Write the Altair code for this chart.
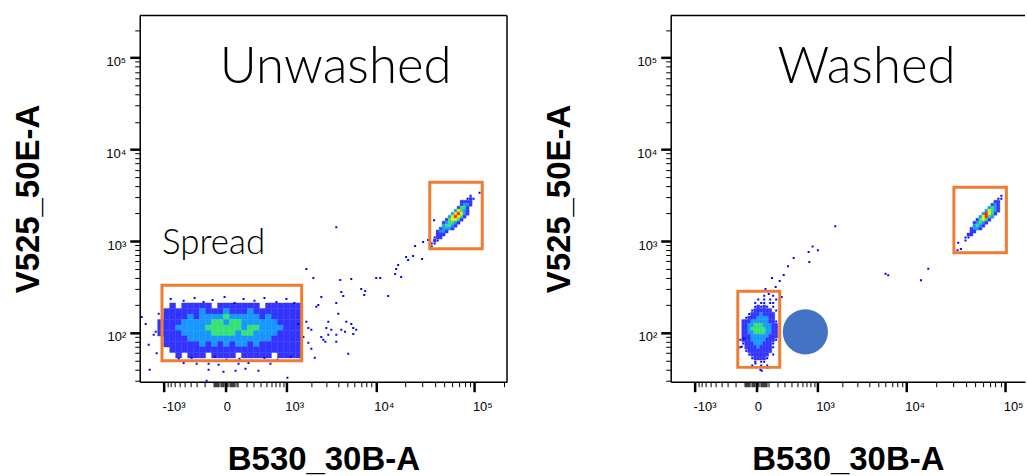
import json
import altair as alt
import numpy as np
import pandas as pd

# ---------------- axes / scales ----------------
C = 320.0                      # symlog (biexponential-like) constant
X_MIN = -1988.0
X_MAX_UNWASHED = 212600.0
X_MAX_WASHED = 158200.0
Y_MIN = 29.3
Y_MAX = 288400.0

X_MAJOR = [-1000, 0, 1000, 10000, 100000]
X_MAJOR_LABELS = ["-10³", "0", "10³", "10⁴", "10⁵"]
X_MINOR = (list(range(-900, -99, 100)) + list(range(-90, 0, 10)) + list(range(10, 100, 10))
           + list(range(100, 1000, 100)) + list(range(2000, 10000, 1000))
           + list(range(20000, 100000, 10000)) + [200000])
Y_MAJOR = [100, 1000, 10000, 100000]
Y_MAJOR_LABELS = ["10²", "10³", "10⁴", "10⁵"]
Y_MINOR = (list(range(30, 100, 10)) + list(range(200, 1000, 100)) + list(range(2000, 10000, 1000))
           + list(range(20000, 100000, 10000)) + [200000])

# ---------------- density grids ----------------
# level: 1 sparse dot, 2 blue, 3 cyan, 4 green, 5 yellow, 6 red
SPREAD_X_START, SPREAD_X_STEP, SPREAD_Y_TOP, SPREAD_Y_STEP = -1988.0, 0.06, 279.0, 0.06
SPREAD_ROWS = [
    "..............................",
    "..............................",
    ".....2.22222.2222222.222222...",
    "....22222232223222322222222...",
    "....22223233334333332322222...",
    "...222233333443443333332222...",
    "...222333334444443443333222...",
    "...222233333444434433332222...",
    "....22223333333333333322222...",
    "....22222232323233232222222...",
    ".....2222222222222222222222...",
    "......2.222.2222.22222.2222...",
    "..............................",
]

BEAD_X_START, BEAD_X_STEP, BEAD_Y_TOP, BEAD_Y_STEP = 35834.0, 0.03, 3767.0, 0.0326
BEAD_U_ROWS = [
    ".................",
    "................1",
    ".............1...",
    "............121..",
    "..........2222...",
    "..........2332...",
    ".........2442....",
    "........35432....",
    ".......356532....",
    "......356542.....",
    ".....245542......",
    "....234432.......",
    "....34432........",
    "...23332.........",
    "..2332...........",
    "..222............",
    ".122.............",
    ".21..............",
    "11...............",
    "1................",
]
BEAD_W_ROWS = [
    ".................",
    ".................",
    ".............1...",
    "............11...",
    "...........22....",
    "..........232....",
    ".........3432....",
    "........35432....",
    ".......36542.....",
    "......35643......",
    ".....24542.......",
    "....23432........",
    "....3432.........",
    "...2332..........",
    "...22............",
    "..22.............",
    ".11..............",
    ".1...............",
    ".................",
    ".................",
]

WPOP_X_START, WPOP_X_STEP, WPOP_Y_TOP, WPOP_Y_STEP = -159.0, 0.03, 265.4, 0.04
WPOP_ROWS = [
    "........1..1..",
    "......1.1.1.1.",
    ".....1.11.11..",
    ".....12121.1..",
    "....1222222.1.",
    "...122232222..",
    "..1222333322..",
    ".222333333221.",
    ".223344433322.",
    ".223444443322.",
    ".223344443322.",
    ".222333333222.",
    "1222333332221.",
    ".12223332221..",
    "1.2222322221..",
    "..122222222...",
    "...1222222.1..",
    "....122221....",
    ".....1.11.....",
    "....1..1.1....",
]

# ---------------- individual events outside the dense cores ----------------
UNW_DOT_X = [1756, 2119, 3821, 4221, 5530, 4327, 4547, 7043, 7754, 7571, 10083, 11087, 13392,
             15792, 16166, 16944, 18179, 20435, 21414, 24067, 29683, 25216, 30381, 34112, 39232,
             2612, 2416, 2293, 3821, 4016, 2750, 2200, 5139, 4894, 5530, 5805, 6243, 3124, 2970,
             3370, 3124, 2612, 2900, 1756, 1853, 2009, 3821, 3821, 1853, 2009, 4327, 4750, 5805,
             1020, -173, -1513, -1556, -1884, -1690, -1352, -1276, -1240, -1170, -518, -300, -151,
             -54, 114, 226, 586, -151, -14, 85, 189, 367, 1406, 1617, -810,
             -518, -330, -209, -110, -6, 76, 167, 307, 469, 720, 990, 1254,
             -620, -377, -221, -90, 9, 124, 265, 469, 744, 1116]
UNW_DOT_Y = [496, 396, 1419, 377, 386, 279, 252, 301, 286, 259, 396, 396, 252,
             438, 496, 548, 406, 670, 621, 687, 637, 883, 975, 1025, 1691,
             246, 201, 192, 212, 161, 84, 53.5, 59, 132, 125, 113, 108, 132, 113,
             108, 95, 90, 80, 132, 113, 108, 95, 80, 78, 67, 108, 103, 97,
             32.4, 30.1, 39.6, 74, 149, 125, 95, 103, 60, 161, 47, 46, 46,
             45, 46, 47, 46, 39.6, 37.7, 38.6, 40.6, 38.6, 125, 90, 234,
             223, 240, 217, 228, 246, 212, 234, 223, 240, 217, 234, 212,
             52.1, 53.5, 49.6, 54.8, 50.9, 52.1, 49.6, 53.5, 50.9, 54.8]
W_DOT_X = [76, 107, 140, 230, 283, 256, 346, 439, 752, 769, 855, 1008, 1662, 6006, 6413, 14039,
           16669, 32, 43, 97, -6, -127, -107, 181, 33571, 35744, 33024]
W_DOT_Y = [301, 265, 396, 367, 427, 246, 531, 653, 759, 591, 875, 795, 1455, 441, 424, 374,
           500, 39.6, 38.6, 41.7, 46.3, 70.5, 86, 316, 959, 818, 793]

# ---------------- gates, annotations ----------------
UNW_GATE_X1 = [-1061, 35490]
UNW_GATE_X2 = [1543, 119940]
UNW_GATE_Y1 = [330, 4377]
UNW_GATE_Y2 = [49.6, 825]
W_GATE_X1 = [-170, 30381]
W_GATE_X2 = [230, 102750]
W_GATE_Y1 = [284, 3864]
W_GATE_Y2 = [42, 746]
W_CIRCLE_X = [674]
W_CIRCLE_Y = [102.5]
PANEL_TITLES = ["Unwashed", "Washed"]
PANEL_TITLE_X = [3760, 3760]
PANEL_TITLE_Y = [53460, 53460]
SPREAD_TEXT = ["Spread"]
SPREAD_TEXT_X = [-1061]
SPREAD_TEXT_Y = [716]

LEVELS = [2, 3, 4, 5, 6]
LEVEL_COLORS = ["#3434ff", "#1898ff", "#36e276", "#e8f000", "#ff2600"]

X_TITLE = "B530_30B-A"
Y_TITLE = "V525_50E-A"


# ---------------- helpers ----------------
def symlog_inv(t):
    return float(np.sign(t) * C * (10 ** abs(t) - 1))


def symlog(x):
    return float(np.sign(x) * np.log10(1 + abs(x) / C))


def grid(x_start, x_step, y_top, y_step, rows):
    t0 = symlog(x_start)
    l0 = np.log10(y_top)
    rects, dots = [], []
    for j, row in enumerate(rows):
        for i, ch in enumerate(row):
            if ch in ".0":
                continue
            lev = int(ch)
            if lev == 1:
                dots.append({"x": symlog_inv(t0 + (i + 0.5) * x_step),
                             "y": float(10 ** (l0 - (j + 0.5) * y_step))})
            else:
                rects.append({"x": symlog_inv(t0 + i * x_step), "x2": symlog_inv(t0 + (i + 1) * x_step),
                              "y": float(10 ** (l0 - j * y_step)), "y2": float(10 ** (l0 - (j + 1) * y_step)),
                              "level": lev})
    return rects, dots


def label_expr(vals, labs):
    expr = "''"
    for v, l in reversed(list(zip(vals, labs))):
        expr = f"datum.value == {v} ? '{l}' : {expr}"
    return expr


def cond(major_vals, major, minor):
    return {"condition": {"test": f"indexof({json.dumps(major_vals)}, datum.value) >= 0", "value": major},
            "value": minor}


def make_axes(xmax):
    xvals = sorted([v for v in X_MAJOR + X_MINOR if X_MIN <= v <= xmax])
    yvals = sorted(Y_MAJOR + Y_MINOR)
    xa = alt.Axis(values=xvals, labelExpr=label_expr(X_MAJOR, X_MAJOR_LABELS),
                  tickSize=cond(X_MAJOR, 10, 5), tickWidth=cond(X_MAJOR, 2.5, 1),
                  tickColor="black", domainColor="black", domainWidth=1.5, grid=False,
                  labelFont="Liberation Sans", labelFontSize=13, labelColor="black",
                  labelAlign="left", labelOffset=-2, labelPadding=9, labelOverlap=False,
                  labelFlush=False, labelBaseline="top",
                  titleFont="Liberation Sans", titleFontSize=33, titleFontWeight="bold",
                  titleColor="black", titlePadding=30)
    ya = alt.Axis(values=yvals, labelExpr=label_expr(Y_MAJOR, Y_MAJOR_LABELS),
                  tickSize=cond(Y_MAJOR, 10, 5), tickWidth=cond(Y_MAJOR, 2.5, 1),
                  tickColor="black", domainColor="black", domainWidth=1.5, grid=False,
                  labelFont="Liberation Sans", labelFontSize=13, labelColor="black",
                  labelPadding=4, labelOffset=4, labelOverlap=False, labelFlush=False,
                  titleFont="Liberation Sans", titleFontSize=33, titleFontWeight="bold",
                  titleColor="black", titlePadding=60)
    return xa, ya


def panel(width, xmax, grids, dot_x, dot_y, gx1, gx2, gy1, gy2, title_idx,
          spread=False, circle=False, right_border=True):
    xs = alt.Scale(type="symlog", constant=C, domain=[X_MIN, xmax], nice=False, zero=False)
    ys = alt.Scale(type="log", domain=[Y_MIN, Y_MAX], nice=False)
    xa, ya = make_axes(xmax)

    def X(field="x"):
        return alt.X(f"{field}:Q", scale=xs, axis=xa, title=X_TITLE)

    def Y(field="y"):
        return alt.Y(f"{field}:Q", scale=ys, axis=ya, title=Y_TITLE)

    rects, dots = [], []
    for g in grids:
        r, d = grid(*g)
        rects += r
        dots += d
    dots += [{"x": float(a), "y": float(b)} for a, b in zip(dot_x, dot_y)]

    cscale = alt.Scale(domain=LEVELS, range=LEVEL_COLORS)
    layers = []
    layers.append(alt.Chart(pd.DataFrame(rects)).mark_rect(clip=True, strokeWidth=0.4).encode(
        x=X(), x2="x2:Q", y=Y(), y2="y2:Q",
        color=alt.Color("level:O", scale=cscale, legend=None),
        stroke=alt.Stroke("level:O", scale=cscale, legend=None)))
    layers.append(alt.Chart(pd.DataFrame(dots)).mark_square(size=4, color="#0000ff", opacity=1,
                                                            clip=True).encode(x=X(), y=Y()))
    gates = pd.DataFrame({"x": gx1, "x2": gx2, "y": gy1, "y2": gy2})
    layers.append(alt.Chart(gates).mark_rect(filled=False, stroke="#ED7D31", strokeWidth=3).encode(
        x=X(), x2="x2:Q", y=Y(), y2="y2:Q"))
    if circle:
        layers.append(alt.Chart(pd.DataFrame({"x": W_CIRCLE_X, "y": W_CIRCLE_Y})).mark_circle(
            size=2060, color="#4472C4", opacity=1).encode(x=X(), y=Y()))
    t = pd.DataFrame({"x": [PANEL_TITLE_X[title_idx]], "y": [PANEL_TITLE_Y[title_idx]],
                      "t": [PANEL_TITLES[title_idx]]})
    layers.append(alt.Chart(t).mark_text(font="Lato", fontWeight=300, fontSize=51, color="black",
                                         align="center", baseline="alphabetic").encode(
        x=X(), y=Y(), text="t:N"))
    if spread:
        s = pd.DataFrame({"x": SPREAD_TEXT_X, "y": SPREAD_TEXT_Y, "t": SPREAD_TEXT})
        layers.append(alt.Chart(s).mark_text(font="Lato", fontWeight=300, fontSize=35, color="black",
                                             align="left", baseline="alphabetic").encode(
            x=X(), y=Y(), text="t:N"))
    one = pd.DataFrame({"a": [0]})
    layers.append(alt.Chart(one).mark_rule(color="black", strokeWidth=1.5).encode(
        x=alt.value(0), x2=alt.value(width), y=alt.value(0)))
    if right_border:
        layers.append(alt.Chart(one).mark_rule(color="black", strokeWidth=1.5).encode(
            x=alt.value(width), y=alt.value(0), y2=alt.value(367)))
    return alt.layer(*layers).properties(width=width, height=367)


left = panel(368, X_MAX_UNWASHED,
             [(SPREAD_X_START, SPREAD_X_STEP, SPREAD_Y_TOP, SPREAD_Y_STEP, SPREAD_ROWS),
              (BEAD_X_START, BEAD_X_STEP, BEAD_Y_TOP, BEAD_Y_STEP, BEAD_U_ROWS)],
             UNW_DOT_X, UNW_DOT_Y, UNW_GATE_X1, UNW_GATE_X2, UNW_GATE_Y1, UNW_GATE_Y2, 0,
             spread=True)
right = panel(355, X_MAX_WASHED,
              [(WPOP_X_START, WPOP_X_STEP, WPOP_Y_TOP, WPOP_Y_STEP, WPOP_ROWS),
               (BEAD_X_START, BEAD_X_STEP, BEAD_Y_TOP, BEAD_Y_STEP, BEAD_W_ROWS)],
              W_DOT_X, W_DOT_Y, W_GATE_X1, W_GATE_X2, W_GATE_Y1, W_GATE_Y2, 1,
              circle=True, right_border=False)

chart = alt.hconcat(left, right, spacing=34).properties(
    padding={"left": 12, "top": 13, "right": 0, "bottom": 0},
    background="white",
).configure_view(stroke="transparent")

chart.save("out.html", embed_options={"renderer": "svg", "actions": False})
